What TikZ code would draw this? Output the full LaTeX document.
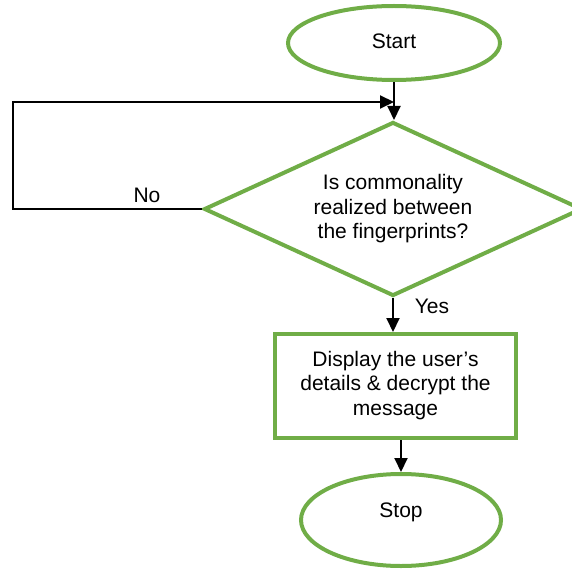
\documentclass[tikz,border=0pt]{standalone}
\usepackage{fontspec}
\setmainfont{Liberation Sans}
\usetikzlibrary{shapes.geometric,arrows.meta}
\definecolor{fgreen}{HTML}{70AD47}
\begin{document}
\begin{tikzpicture}[x=1pt,y=-1pt,
  every node/.style={font=\fontsize{21}{24.5}\selectfont, align=center},
  term/.style={ellipse, draw=fgreen, line width=4pt, inner sep=0pt},
  decis/.style={diamond, draw=fgreen, line width=4pt, inner sep=0pt, aspect=2.17,
     minimum width=378pt, minimum height=174pt},
  proc/.style={rectangle, draw=fgreen, line width=4pt, inner sep=0pt,
     minimum width=241pt, minimum height=104pt},
  arr/.style={line width=2pt, -{Triangle[length=14pt,width=13pt]}},
  ln/.style={line width=2pt}]
\useasboundingbox (0,0) rectangle (572,569);
\node[term, minimum width=212pt, minimum height=74pt] (start) at (394,43) {\raisebox{4pt}{Start}};
\node[decis] (dec) at (393,209) {Is commonality\\realized between\\the fingerprints?};
\node[proc] (box) at (395.5,386) {\raisebox{6pt}{\begin{tabular}{@{}c@{}}Display the user’s\\details \& decrypt the\\message\end{tabular}}};
\node[term, minimum width=200pt, minimum height=92pt] (stop) at (401,520) {\raisebox{20pt}{Stop}};
\coordinate (lc) at (13,102);
\coordinate (m) at (394,102);
\draw[arr] (start.south) -- (start.south |- dec.north);
\draw[arr] (dec.west) -- (dec.west -| lc) -- (lc) -- (m);
\draw[arr] (dec.south) -- (dec.south |- box.north);
\draw[arr] (box.south -| stop.north) -- (stop.north);
\node (no) at (147,195) {No};
\node (yes) at (432,306) {Yes};
\end{tikzpicture}
\end{document}
